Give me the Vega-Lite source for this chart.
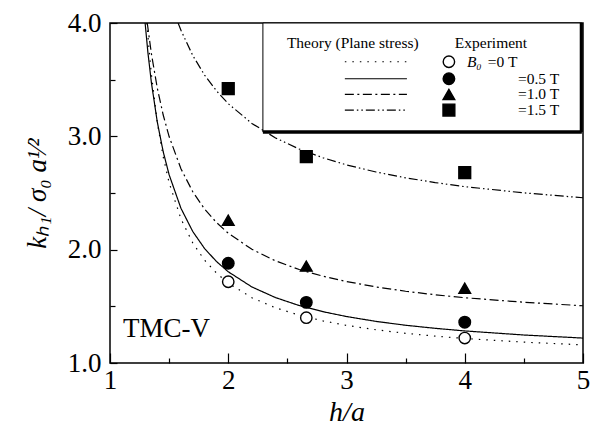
{
  "$schema": "https://vega.github.io/schema/vega-lite/v6.json",
  "width": 473,
  "height": 340,
  "autosize": "none",
  "padding": {"left": 110, "top": 23, "right": 11, "bottom": 64},
  "background": "white",
  "config": {
    "view": {"stroke": "black", "strokeWidth": 1.5},
    "font": "Liberation Serif",
    "axis": {
      "domain": false,
      "grid": false,
      "tickColor": "black",
      "tickWidth": 1.2,
      "labelColor": "black",
      "labelFont": "Liberation Serif",
      "labelFontSize": 27,
      "titleFont": "Liberation Serif",
      "titleFontStyle": "italic",
      "titleFontWeight": "normal",
      "titleFontSize": 28,
      "titleColor": "black",
      "labelOverlap": false,
      "labelFlush": false
    }
  },
  "datasets": {
    "curves": [
      {"s": "0 T", "x": 1.312, "y": 4.0}, {"s": "0 T", "x": 1.33, "y": 3.769}, {"s": "0 T", "x": 1.35, "y": 3.547}, {"s": "0 T", "x": 1.4, "y": 3.122}, {"s": "0 T", "x": 1.45, "y": 2.819}, {"s": "0 T", "x": 1.5, "y": 2.591}, {"s": "0 T", "x": 1.6, "y": 2.272}, {"s": "0 T", "x": 1.7, "y": 2.059}, {"s": "0 T", "x": 1.8, "y": 1.907}, {"s": "0 T", "x": 1.9, "y": 1.794}, {"s": "0 T", "x": 2.0, "y": 1.705}, {"s": "0 T", "x": 2.2, "y": 1.576}, {"s": "0 T", "x": 2.4, "y": 1.487}, {"s": "0 T", "x": 2.6, "y": 1.422}, {"s": "0 T", "x": 2.8, "y": 1.372}, {"s": "0 T", "x": 3.0, "y": 1.332}, {"s": "0 T", "x": 3.25, "y": 1.293}, {"s": "0 T", "x": 3.5, "y": 1.262}, {"s": "0 T", "x": 3.75, "y": 1.237}, {"s": "0 T", "x": 4.0, "y": 1.216}, {"s": "0 T", "x": 4.5, "y": 1.184}, {"s": "0 T", "x": 5.0, "y": 1.16},
      {"s": "0.5 T", "x": 1.297, "y": 4.0}, {"s": "0.5 T", "x": 1.32, "y": 3.745}, {"s": "0.5 T", "x": 1.35, "y": 3.474}, {"s": "0.5 T", "x": 1.4, "y": 3.126}, {"s": "0.5 T", "x": 1.45, "y": 2.864}, {"s": "0.5 T", "x": 1.5, "y": 2.661}, {"s": "0.5 T", "x": 1.6, "y": 2.365}, {"s": "0.5 T", "x": 1.7, "y": 2.16}, {"s": "0.5 T", "x": 1.8, "y": 2.01}, {"s": "0.5 T", "x": 1.9, "y": 1.896}, {"s": "0.5 T", "x": 2.0, "y": 1.805}, {"s": "0.5 T", "x": 2.2, "y": 1.671}, {"s": "0.5 T", "x": 2.4, "y": 1.577}, {"s": "0.5 T", "x": 2.6, "y": 1.507}, {"s": "0.5 T", "x": 2.8, "y": 1.453}, {"s": "0.5 T", "x": 3.0, "y": 1.41}, {"s": "0.5 T", "x": 3.25, "y": 1.367}, {"s": "0.5 T", "x": 3.5, "y": 1.333}, {"s": "0.5 T", "x": 3.75, "y": 1.306}, {"s": "0.5 T", "x": 4.0, "y": 1.283}, {"s": "0.5 T", "x": 4.5, "y": 1.247}, {"s": "0.5 T", "x": 5.0, "y": 1.22},
      {"s": "1.0 T", "x": 1.315, "y": 4.0}, {"s": "1.0 T", "x": 1.35, "y": 3.729}, {"s": "1.0 T", "x": 1.4, "y": 3.425}, {"s": "1.0 T", "x": 1.45, "y": 3.188}, {"s": "1.0 T", "x": 1.5, "y": 2.998}, {"s": "1.0 T", "x": 1.6, "y": 2.714}, {"s": "1.0 T", "x": 1.7, "y": 2.511}, {"s": "1.0 T", "x": 1.8, "y": 2.358}, {"s": "1.0 T", "x": 1.9, "y": 2.24}, {"s": "1.0 T", "x": 2.0, "y": 2.145}, {"s": "1.0 T", "x": 2.2, "y": 2.003}, {"s": "1.0 T", "x": 2.4, "y": 1.901}, {"s": "1.0 T", "x": 2.6, "y": 1.825}, {"s": "1.0 T", "x": 2.8, "y": 1.766}, {"s": "1.0 T", "x": 3.0, "y": 1.719}, {"s": "1.0 T", "x": 3.25, "y": 1.671}, {"s": "1.0 T", "x": 3.5, "y": 1.633}, {"s": "1.0 T", "x": 3.75, "y": 1.602}, {"s": "1.0 T", "x": 4.0, "y": 1.576}, {"s": "1.0 T", "x": 4.5, "y": 1.536}, {"s": "1.0 T", "x": 5.0, "y": 1.505},
      {"s": "1.5 T", "x": 1.576, "y": 4.0}, {"s": "1.5 T", "x": 1.6, "y": 3.936}, {"s": "1.5 T", "x": 1.7, "y": 3.713}, {"s": "1.5 T", "x": 1.8, "y": 3.54}, {"s": "1.5 T", "x": 1.9, "y": 3.402}, {"s": "1.5 T", "x": 2.0, "y": 3.288}, {"s": "1.5 T", "x": 2.2, "y": 3.114}, {"s": "1.5 T", "x": 2.4, "y": 2.986}, {"s": "1.5 T", "x": 2.6, "y": 2.888}, {"s": "1.5 T", "x": 2.8, "y": 2.811}, {"s": "1.5 T", "x": 3.0, "y": 2.748}, {"s": "1.5 T", "x": 3.25, "y": 2.685}, {"s": "1.5 T", "x": 3.5, "y": 2.634}, {"s": "1.5 T", "x": 3.75, "y": 2.592}, {"s": "1.5 T", "x": 4.0, "y": 2.556}, {"s": "1.5 T", "x": 4.5, "y": 2.501}, {"s": "1.5 T", "x": 5.0, "y": 2.458}
    ],
    "leglines": [
      {"s": "0 T", "x": 2.986, "y": 3.658}, {"s": "0 T", "x": 3.511, "y": 3.658},
      {"s": "0.5 T", "x": 2.986, "y": 3.508}, {"s": "0.5 T", "x": 3.511, "y": 3.508},
      {"s": "1.0 T", "x": 2.986, "y": 3.37}, {"s": "1.0 T", "x": 3.511, "y": 3.37},
      {"s": "1.5 T", "x": 2.986, "y": 3.232}, {"s": "1.5 T", "x": 3.511, "y": 3.232}
    ],
    "points": [
      {"s": "0 T", "x": 2.0, "y": 1.717}, {"s": "0 T", "x": 2.66, "y": 1.40}, {"s": "0 T", "x": 4.0, "y": 1.22},
      {"s": "0.5 T", "x": 2.0, "y": 1.88}, {"s": "0.5 T", "x": 2.66, "y": 1.535}, {"s": "0.5 T", "x": 4.0, "y": 1.36},
      {"s": "1.0 T", "x": 2.0, "y": 2.26}, {"s": "1.0 T", "x": 2.66, "y": 1.855}, {"s": "1.0 T", "x": 4.0, "y": 1.66},
      {"s": "1.5 T", "x": 2.0, "y": 3.42}, {"s": "1.5 T", "x": 2.66, "y": 2.82}, {"s": "1.5 T", "x": 4.0, "y": 2.68},
      {"s": "0 T", "x": 3.866, "y": 3.658}, {"s": "0.5 T", "x": 3.866, "y": 3.508}, {"s": "1.0 T", "x": 3.866, "y": 3.37}, {"s": "1.5 T", "x": 3.866, "y": 3.232}
    ]
  },
  "layer": [
    {
      "data": {"values": [{"x": 2.293, "x2": 4.99, "y": 3.038, "y2": 4.0}]},
      "mark": {"type": "rect", "fill": "white", "stroke": "black", "strokeWidth": 1},
      "encoding": {
        "x": {"field": "x", "type": "quantitative", "scale": {"domain": [1, 5], "nice": false, "zero": false},
          "axis": {
            "values": [1, 1.5, 2, 2.5, 3, 3.5, 4, 4.5, 5],
            "labelExpr": "datum.value % 1 === 0 ? format(datum.value, 'd') : ''",
            "tickSize": {"condition": {"test": "datum.value % 1 === 0", "value": -10}, "value": -5},
            "labelPadding": 14,
            "title": "h/a",
            "titlePadding": 0
          }},
        "x2": {"field": "x2"},
        "y": {"field": "y", "type": "quantitative", "scale": {"domain": [1, 4], "nice": false, "zero": false},
          "axis": {
            "values": [1, 1.5, 2, 2.5, 3, 3.5, 4],
            "labelExpr": "datum.value % 1 === 0 ? format(datum.value, '.1f') : ''",
            "tickSize": {"condition": {"test": "datum.value % 1 === 0", "value": -7}, "value": -5},
            "labelPadding": 16,
            "title": "kₕ₁/ σ₀ a¹⁄²",
            "titleFontSize": 27,
            "titlePadding": 16
          }},
        "y2": {"field": "y2"}
      }
    },
    {
      "data": {"values": [{"x": 2.293, "x2": 4.99, "y": 3.038}]},
      "mark": {"type": "rule", "stroke": "black", "strokeWidth": 3.5},
      "encoding": {"x": {"field": "x", "type": "quantitative"}, "x2": {"field": "x2"}, "y": {"field": "y", "type": "quantitative"}}
    },
    {
      "data": {"values": [{"x": 4.985, "y": 3.038, "y2": 4.0}]},
      "mark": {"type": "rule", "stroke": "black", "strokeWidth": 3},
      "encoding": {"x": {"field": "x", "type": "quantitative"}, "y": {"field": "y", "type": "quantitative"}, "y2": {"field": "y2"}}
    },
    {
      "data": {"name": "curves"},
      "mark": {"type": "line", "stroke": "black", "strokeWidth": 1.2, "clip": true},
      "encoding": {
        "x": {"field": "x", "type": "quantitative"},
        "y": {"field": "y", "type": "quantitative"},
        "strokeDash": {"field": "s", "type": "nominal", "legend": null,
          "scale": {"domain": ["0 T", "0.5 T", "1.0 T", "1.5 T"], "range": [[1.5, 6], [1, 0], [9, 3.5, 2, 3.5], [9, 3, 1.5, 3, 1.5, 3]]}}
      }
    },
    {
      "data": {"name": "leglines"},
      "mark": {"type": "line", "stroke": "black", "strokeWidth": 1.2},
      "encoding": {
        "x": {"field": "x", "type": "quantitative"},
        "y": {"field": "y", "type": "quantitative"},
        "strokeDash": {"field": "s", "type": "nominal", "legend": null}
      }
    },
    {
      "data": {"name": "points"},
      "mark": {"type": "point", "filled": true, "stroke": "black", "strokeWidth": 1.4, "opacity": 1},
      "encoding": {
        "x": {"field": "x", "type": "quantitative"},
        "y": {"field": "y", "type": "quantitative"},
        "shape": {"field": "s", "type": "nominal", "legend": null,
          "scale": {"domain": ["0 T", "0.5 T", "1.0 T", "1.5 T"], "range": ["circle", "circle", "triangle-up", "square"]}},
        "fill": {"field": "s", "type": "nominal", "legend": null,
          "scale": {"domain": ["0 T", "0.5 T", "1.0 T", "1.5 T"], "range": ["white", "black", "black", "black"]}},
        "size": {"field": "s", "type": "nominal", "legend": null,
          "scale": {"domain": ["0 T", "0.5 T", "1.0 T", "1.5 T"], "range": [130, 140, 170, 150]}}
      }
    },
    {
      "data": {"values": [{"x": 1.11, "y": 1.229, "t": "TMC-V"}]},
      "mark": {"type": "text", "align": "left", "baseline": "alphabetic", "font": "Liberation Serif", "fontSize": 27, "color": "black"},
      "encoding": {"x": {"field": "x", "type": "quantitative"}, "y": {"field": "y", "type": "quantitative"}, "text": {"field": "t"}}
    },
    {
      "data": {"values": [
        {"x": 2.496, "y": 3.823, "t": "Theory (Plane stress)"},
        {"x": 3.916, "y": 3.823, "t": "Experiment"},
        {"x": 4.195, "y": 3.658, "t": "=0 T"},
        {"x": 4.45, "y": 3.508, "t": "=0.5 T"},
        {"x": 4.45, "y": 3.37, "t": "=1.0 T"},
        {"x": 4.45, "y": 3.232, "t": "=1.5 T"}
      ]},
      "mark": {"type": "text", "align": "left", "baseline": "middle", "font": "Liberation Serif", "fontSize": 15.5, "color": "black"},
      "encoding": {"x": {"field": "x", "type": "quantitative"}, "y": {"field": "y", "type": "quantitative"}, "text": {"field": "t"}}
    },
    {
      "data": {"values": [{"x": 4.018, "y": 3.658, "t": "B₀"}]},
      "mark": {"type": "text", "align": "left", "baseline": "middle", "font": "Liberation Serif", "fontStyle": "italic", "fontSize": 15.5, "color": "black"},
      "encoding": {"x": {"field": "x", "type": "quantitative"}, "y": {"field": "y", "type": "quantitative"}, "text": {"field": "t"}}
    }
  ]
}
